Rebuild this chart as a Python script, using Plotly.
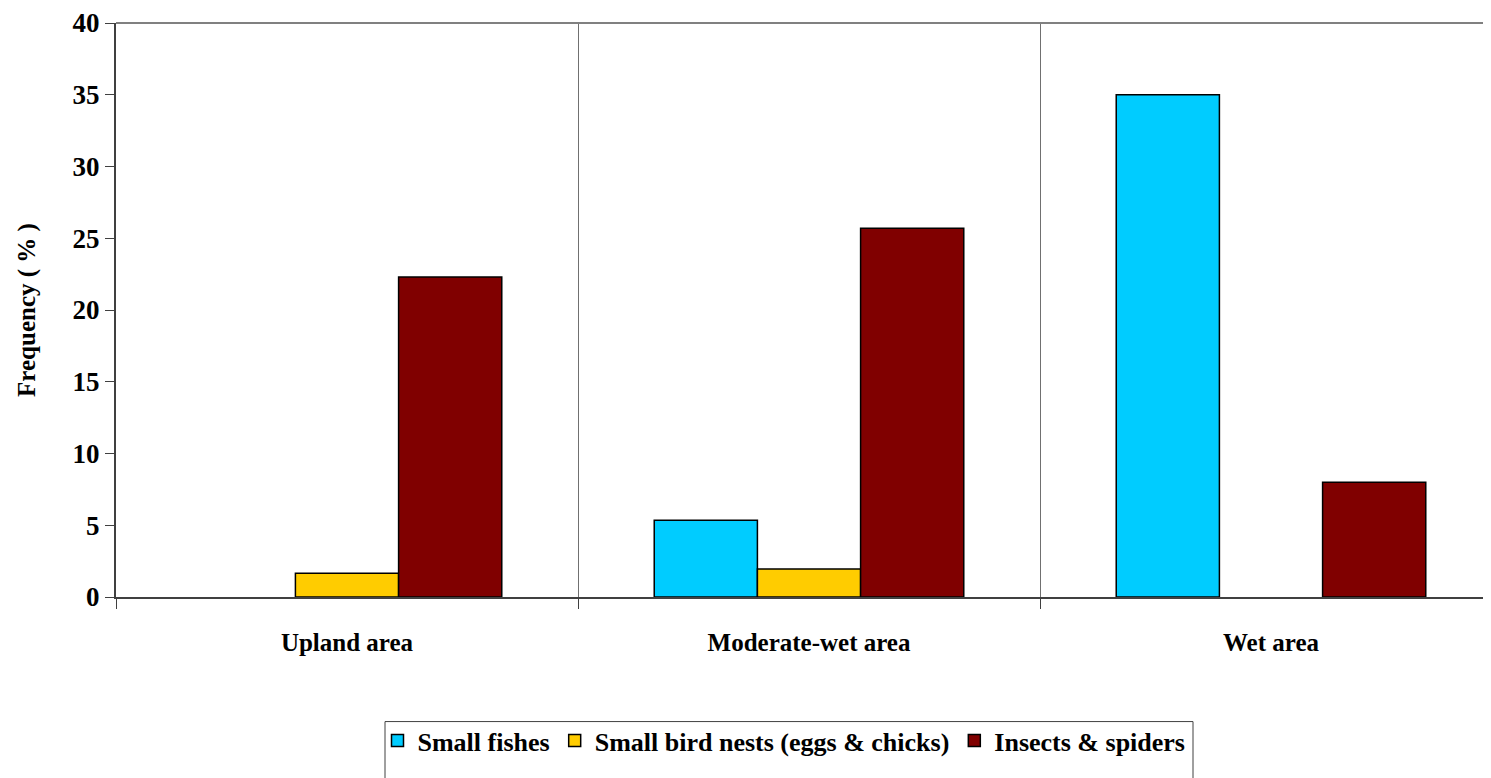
import plotly.graph_objects as go

categories = ["Upland area", "Moderate-wet area", "Wet area"]
small_fishes = [0, 5.35, 35.0]
bird_nests = [1.65, 1.95, 0]
insects_spiders = [22.3, 25.7, 8.0]
series_names = ["Small fishes", "Small bird nests (eggs & chicks)", "Insects & spiders"]
colors = ["#00CCFF", "#FFCC00", "#800000"]
y_ticks = [0, 5, 10, 15, 20, 25, 30, 35, 40]

FONT = "Liberation Serif"
# The page body has an 8px margin, so the figure is drawn 8px right/down.
OFF = 8
SW, SH = 1491, 778               # screenshot size
W, H = SW - OFF, SH - OFF        # figure size
PL, PR, PT, PB = 116, 1491, 21, 597   # plot area in screenshot pixels
ML, MR, MT, MB = PL - OFF, (SW - PR), PT - OFF, (SH - PB)

fig = go.Figure()
for name, vals, col in zip(series_names, [small_fishes, bird_nests, insects_spiders], colors):
    fig.add_trace(go.Bar(
        x=categories, y=[v if v else None for v in vals], name=name,
        marker=dict(color=col, line=dict(color="black", width=1.5)),
    ))

plot_h = PB - PT
plot_w = PR - PL

def py(px):
    return (PB - px) / plot_h

def pxx(px):
    return (px - PL) / plot_w

fig.update_layout(
    width=W, height=H,
    margin=dict(l=ML, r=MR, t=MT, b=MB, pad=0),
    plot_bgcolor="white", paper_bgcolor="white",
    barmode="group", bargap=0.33, bargroupgap=0,
    font=dict(family=FONT, color="black"),
    showlegend=True,
    legend=dict(
        orientation="h", x=pxx(784), xanchor="center", y=py(741), yanchor="middle",
        font=dict(family=FONT, size=26, weight="bold", color="black"),
        bgcolor="rgba(0,0,0,0)", borderwidth=0, itemwidth=30,
        traceorder="normal",
    ),
    xaxis=dict(
        type="category", tickson="boundaries",
        range=[-0.5, 2.5 - 11 / 462],
        ticks="outside", ticklen=10, tickcolor="#404040", tickwidth=1,
        showgrid=True, gridcolor="#707070", gridwidth=1,
        showline=True, linecolor="#404040", linewidth=2,
        tickfont=dict(family=FONT, size=25, weight="bold", color="black"),
        ticklabelstandoff=22,
        fixedrange=True,
    ),
    yaxis=dict(
        range=[0, 40], tickvals=y_ticks, ticktext=[str(v) for v in y_ticks],
        ticks="outside", ticklen=9, tickcolor="#404040", tickwidth=1,
        showgrid=False, zeroline=False,
        showline=True, linecolor="#404040", linewidth=2,
        tickfont=dict(family=FONT, size=27, weight="bold", color="black"),
        ticklabeloverflow="allow",
        title=dict(text="Frequency ( % )", font=dict(family=FONT, size=25, weight="bold", color="black"), standoff=30),
        fixedrange=True,
    ),
    shapes=[
        dict(type="line", xref="paper", yref="paper", x0=0, x1=1, y0=1, y1=1,
             line=dict(color="#808080", width=2)),
        dict(type="rect", xref="paper", yref="paper",
             x0=pxx(385), x1=pxx(1193), y0=py(722), y1=py(800),
             line=dict(color="#404040", width=1), fillcolor="rgba(0,0,0,0)"),
    ],
)

fig.write_html("out.html")
